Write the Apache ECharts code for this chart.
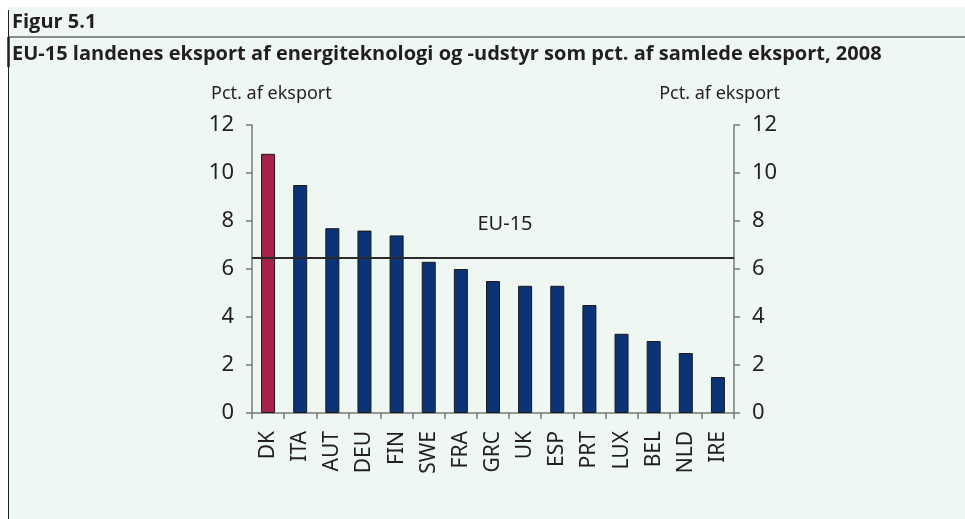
<!DOCTYPE html>
<html>
<head>
<meta charset="utf-8">
<script src="https://cdn.jsdelivr.net/npm/echarts@6/dist/echarts.min.js"></script>
<style>
html,body{margin:0;padding:0;background:#fff;}
#c{width:965px;height:519px;}
</style>
</head>
<body>
<div id="c"></div>
<script>
const categories = ['DK','ITA','AUT','DEU','FIN','SWE','FRA','GRC','UK','ESP','PRT','LUX','BEL','NLD','IRE'];
const exportShare = [10.8, 9.5, 7.7, 7.6, 7.4, 6.3, 6.0, 5.5, 5.3, 5.3, 4.5, 3.3, 3.0, 2.5, 1.5];
const eu15Average = 6.45;
const yTicks = [0, 2, 4, 6, 8, 10, 12];
const highlight = 'DK';

const textColor = '#231f20';
const bg = '#eef7f2';
const chart = echarts.init(document.getElementById('c'), null, {renderer: 'canvas'});

const barData = categories.map((c, i) => ({
  value: exportShare[i],
  itemStyle: {color: c === highlight ? '#a6224b' : '#0b3478'}
}));

const yAxisCommon = {
  type: 'value', min: yTicks[0], max: yTicks[yTicks.length - 1], interval: 2,
  splitLine: {show: false},
  axisLine: {show: true, lineStyle: {color: '#7a7a7a', width: 1.5}},
  axisTick: {show: true, length: 6, lineStyle: {color: '#7a7a7a', width: 1.5}},
  axisLabel: {color: textColor, fontSize: 22, fontFamily: 'Noto Sans', margin: 18},
  name: 'Pct. af eksport',
  nameLocation: 'end',
  nameGap: 22,
  nameTextStyle: {color: textColor, fontSize: 18, fontFamily: 'Noto Sans'}
};

chart.setOption({
  backgroundColor: 'transparent',
  animation: false,
  graphic: [
    {type: 'rect', z: -10, shape: {x: 8, y: 7, width: 957, height: 512}, style: {fill: bg}},
    {type: 'line', shape: {x1: 8, y1: 37, x2: 965, y2: 37}, style: {stroke: '#231f20', lineWidth: 1}},
    {type: 'line', shape: {x1: 8.5, y1: 10, x2: 8.5, y2: 519}, style: {stroke: '#231f20', lineWidth: 1}},
    {type: 'line', shape: {x1: 8.5, y1: 37, x2: 8.5, y2: 67}, style: {stroke: '#231f20', lineWidth: 2.5}},
    {type: 'text', left: 12, top: 12, style: {text: 'Figur 5.1', fill: textColor, font: 'bold 20px "Open Sans", sans-serif'}},
    {type: 'text', left: 12, top: 44, style: {text: 'EU-15 landenes eksport af energiteknologi og -udstyr som pct. af samlede eksport, 2008', fill: textColor, font: 'bold 20px "Open Sans", sans-serif'}}
  ],
  grid: {left: 252, right: 231, top: 125, bottom: 106, containLabel: false},
  xAxis: {
    type: 'category', data: categories, boundaryGap: true,
    axisLine: {show: true, lineStyle: {color: '#7a7a7a', width: 1.5}},
    axisTick: {show: true, length: 6, alignWithLabel: false, lineStyle: {color: '#7a7a7a', width: 1.5}},
    axisLabel: {rotate: 90, color: textColor, fontSize: 21, fontFamily: 'Noto Sans', margin: 18, interval: 0}
  },
  yAxis: [
    Object.assign({}, yAxisCommon, {position: 'left',
      nameTextStyle: Object.assign({}, yAxisCommon.nameTextStyle, {align: 'left', padding: [0, 0, 0, -41]})}),
    Object.assign({}, yAxisCommon, {position: 'right',
      nameTextStyle: Object.assign({}, yAxisCommon.nameTextStyle, {align: 'right', padding: [0, -46, 0, 0]})})
  ],
  series: [{
    type: 'bar', data: barData, barWidth: 14, yAxisIndex: 0,
    itemStyle: {borderColor: '#1a1a1a', borderWidth: 1},
    markLine: {
      silent: true, symbol: ['none', 'none'],
      lineStyle: {color: '#2a2a2a', width: 2, type: 'solid'},
      label: {show: true, formatter: 'EU-15', position: 'insideMiddleTop', distance: 24, color: textColor, fontSize: 20, fontFamily: 'Noto Sans', padding: [0, 0, 0, 24]},
      data: [{yAxis: eu15Average}]
    }
  }]
});
</script>
</body>
</html>
